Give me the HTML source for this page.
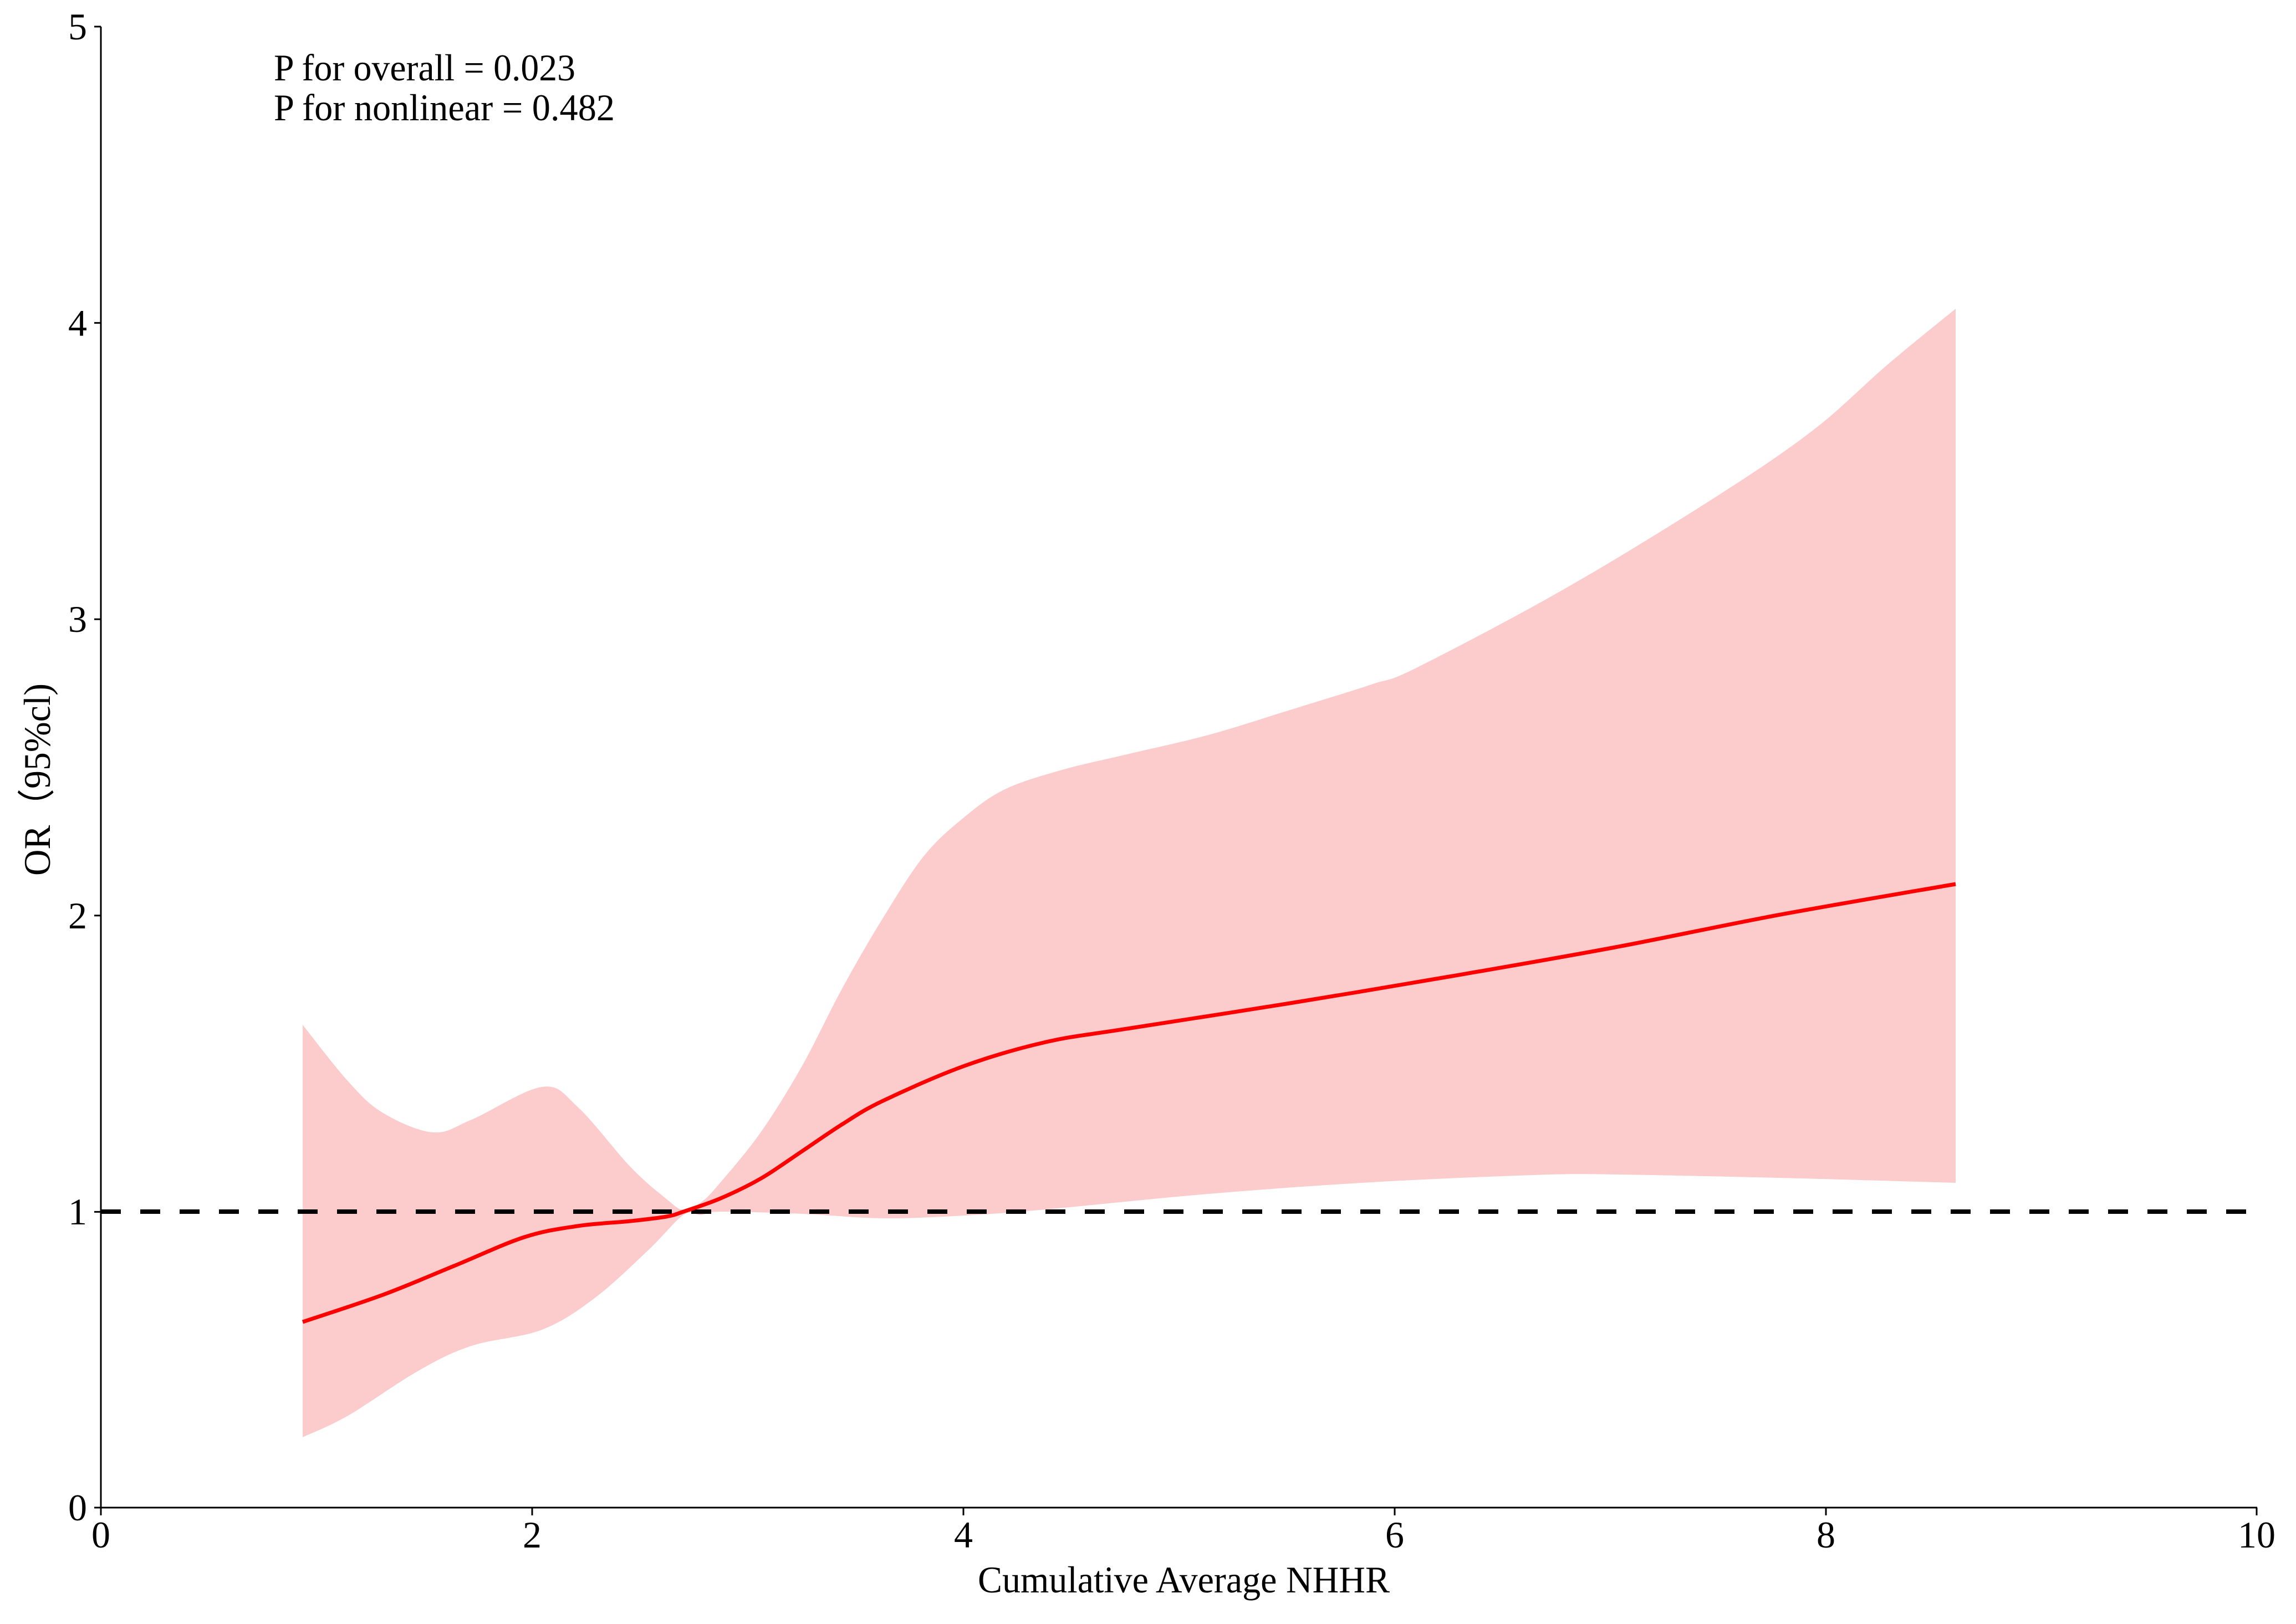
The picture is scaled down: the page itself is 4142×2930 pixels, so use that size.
<!DOCTYPE html>
<html><head><meta charset="utf-8"><style>
html,body{margin:0;padding:0;background:#fff;}
svg{display:block;}
text{font-family:"Liberation Serif",serif;fill:#000;}
</style></head><body>
<svg width="4142" height="2930" viewBox="0 0 4142 2930" xmlns="http://www.w3.org/2000/svg">
<polygon id="band" fill="#FCCBCB" points="546,1849 628,1951 691,2008 781,2043 851,2020 978,1961 1042,1997 1138,2106 1202,2163 1233,2183 1265,2169 1300,2133 1373,2042 1447,1923 1520,1782 1593,1656 1667,1544 1740,1474 1813,1424 1916,1389 2033,1361 2180,1326 2327,1281 2474,1235 2557,1204 2825,1061 3093,898 3271,776 3405,658 3528,557 3528,2134 3207,2125 2914,2119 2767,2120 2474,2133 2180,2154 1887,2182 1740,2193 1593,2198 1447,2190 1300,2186 1265,2192 1233,2192 1170,2255 1074,2341 978,2399 851,2428 755,2473 628,2554 546,2593"/>
<line x1="182" y1="2186" x2="4072" y2="2186" stroke="#000" stroke-width="8" stroke-dasharray="36,35"/>
<polyline id="mean" fill="none" stroke="#FF0000" stroke-width="7" stroke-linejoin="round" points="546,2385 691,2336 819,2284 946,2232 1042,2212 1138,2203 1202,2195 1233,2186 1300,2162 1373,2126 1447,2077 1520,2028 1593,1986 1740,1923 1887,1880 2033,1856 2327,1810 2620,1761 2914,1709 3207,1651 3528,1595"/>
<g stroke="#000" stroke-width="3">
<line x1="182" y1="48" x2="182" y2="2721"/>
<line x1="170" y1="2720" x2="4072" y2="2720"/>
<line x1="170" y1="48" x2="182" y2="48"/>
<line x1="170" y1="582.6" x2="182" y2="582.6"/>
<line x1="170" y1="1117.2" x2="182" y2="1117.2"/>
<line x1="170" y1="1651.8" x2="182" y2="1651.8"/>
<line x1="170" y1="2186.4" x2="182" y2="2186.4"/>
<line x1="182" y1="2720" x2="182" y2="2734"/>
<line x1="960" y1="2720" x2="960" y2="2734"/>
<line x1="1738" y1="2720" x2="1738" y2="2734"/>
<line x1="2516" y1="2720" x2="2516" y2="2734"/>
<line x1="3294" y1="2720" x2="3294" y2="2734"/>
<line x1="4071" y1="2720" x2="4071" y2="2734"/>
</g>
<g font-size="68" text-anchor="end">
<text x="157" y="2743">0</text>
<text x="157" y="2209">1</text>
<text x="157" y="1675">2</text>
<text x="157" y="1140">3</text>
<text x="157" y="606">4</text>
<text x="157" y="71">5</text>
</g>
<g font-size="68" text-anchor="middle">
<text x="182" y="2792">0</text>
<text x="960" y="2792">2</text>
<text x="1738" y="2792">4</text>
<text x="2516" y="2792">6</text>
<text x="3294" y="2792">8</text>
<text x="4071" y="2792">10</text>
</g>
<text font-size="68" x="1764" y="2873" textLength="743" lengthAdjust="spacingAndGlyphs">Cumulative Average NHHR</text>
<text font-size="68" transform="translate(90,1580) rotate(-90)" textLength="347" lengthAdjust="spacingAndGlyphs">OR（95%cl)</text>
<text font-size="68" x="494" y="145" textLength="544" lengthAdjust="spacingAndGlyphs">P for overall = 0.023</text>
<text font-size="68" x="494" y="217" textLength="615" lengthAdjust="spacingAndGlyphs">P for nonlinear = 0.482</text>
</svg>
<script>
(function(){
function pts(el){return el.getAttribute('points').trim().split(/\s+/).map(function(p){return p.split(',').map(Number);});}
function cr(p){var d='M'+p[0][0]+','+p[0][1];for(var i=0;i<p.length-1;i++){var p0=p[i-1]||p[i],p1=p[i],p2=p[i+1],p3=p[i+2]||p2;
d+=' C'+(p1[0]+(p2[0]-p0[0])/6)+','+(p1[1]+(p2[1]-p0[1])/6)+' '+(p2[0]-(p3[0]-p1[0])/6)+','+(p2[1]-(p3[1]-p1[1])/6)+' '+p2[0]+','+p2[1];}return d;}
try{
var ns='http://www.w3.org/2000/svg';
var m=document.getElementById('mean');var pm=document.createElementNS(ns,'path');
pm.setAttribute('d',cr(pts(m)));pm.setAttribute('fill','none');pm.setAttribute('stroke','#FF0000');pm.setAttribute('stroke-width','7');
m.parentNode.replaceChild(pm,m);
var b=document.getElementById('band');var pb=pts(b);
var up=pb.slice(0,30),lo=pb.slice(30);
var d=cr(up)+' L'+lo[0][0]+','+lo[0][1]+' '+cr(lo).slice(1).replace(/^[^C]*/,'')+' Z';
var bp=document.createElementNS(ns,'path');bp.setAttribute('d',d);bp.setAttribute('fill','#FCCBCB');
b.parentNode.replaceChild(bp,b);
}catch(e){}
})();
</script>
</body></html>
